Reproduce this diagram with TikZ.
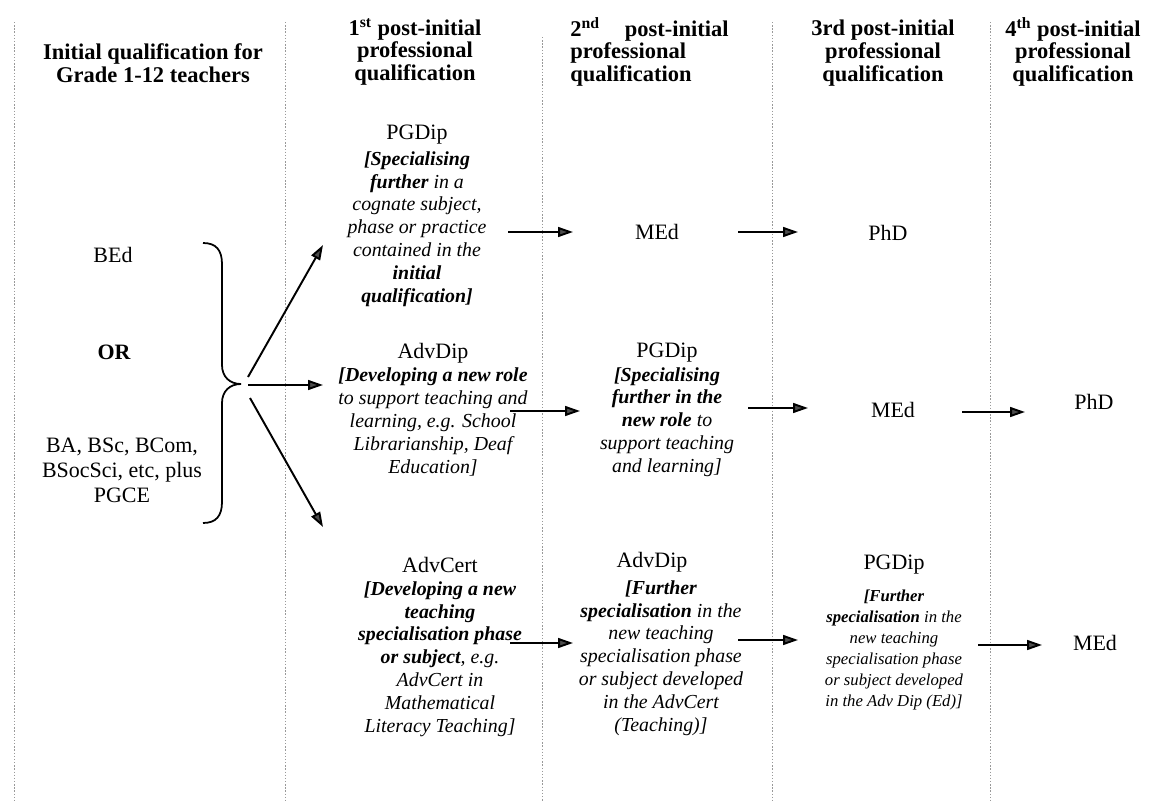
\documentclass[tikz,border=0pt]{standalone}
\usepackage{fontspec}
\setmainfont{Liberation Serif}
\usetikzlibrary{arrows.meta,calc}

\tikzset{
  grid/.style={draw=black!40, line width=0.4pt, dash pattern=on 0.8pt off 1pt},
  arr/.style={line width=1.1pt, -{Triangle[length=8.5pt,width=5.6pt,fill=black!70]}},
  head/.style={font=\fontsize{12.8}{13}\selectfont\bfseries, align=center, inner sep=0pt},
  qual/.style={font=\fontsize{12.5}{14.2}\selectfont, align=center, inner sep=0pt},
  desc/.style={font=\fontsize{11.3}{13}\selectfont\itshape, align=center, inner sep=0pt},
  small/.style={font=\fontsize{9.5}{11.9}\selectfont\itshape, align=center, inner sep=0pt},
}

\begin{document}
\begin{tikzpicture}[x=0.02cm, y=-0.02cm]
			%%%%% START %%%%%
			\useasboundingbox (0,0) rectangle (1170,801);
			
			\draw[grid] (14, 22) -- (14, 801);
			\draw[grid] (285, 22) -- (285, 801);
			\draw[grid] (542, 37) -- (542, 801);
			\draw[grid] (772, 22) -- (772, 801);
			\draw[grid] (990, 22) -- (990, 801);
			
			% headings
			\node[head] (hInit) at (153, 63) {Initial qualification for\\Grade 1-12 teachers};
			\node[head] (hFirst) at (415, 52) {1\textsuperscript{st} post-initial\\professional\\qualification};
			\node[head, align=left, anchor=west] (hSecond) at (570, 52) {2\textsuperscript{nd}\hspace{11pt} post-initial\\professional\\qualification};
			\node[head] (hThird) at (883, 53) {3rd post-initial\\professional\\qualification};
			\node[head] (hFourth) at (1073, 52) {4\textsuperscript{th} post-initial\\professional\\qualification};
			
			% initial qualification
			\node[qual] (bed) at (113, 255) {BEd};
			\node[qual, font=\fontsize{12.5}{14.2}\selectfont\bfseries] (orw) at (114, 352) {OR};
			\node[qual] (ba) at (122, 470) {BA, BSc, BCom,\\BSocSci, etc, plus\\PGCE};
			
			\draw[line width=1pt] (203, 243) .. controls (216, 243) and (222, 250) .. (222, 264) -- (222, 365)
				.. controls (222, 377) and (230, 384) .. (241, 384)
				.. controls (230, 384) and (222, 391) .. (222, 403) -- (222, 502)
				.. controls (222, 516) and (216, 523) .. (203, 523);
			
			\coordinate (upS) at (248, 377);
			\coordinate (upE) at (323, 245);
			\coordinate (midS) at (248, 385);
			\coordinate (midE) at (323, 385);
			\coordinate (lowS) at (250, 398);
			\coordinate (lowE) at (323, 527);
			\draw[arr] (upS) -- (upE);
			\draw[arr] (midS) -- (midE);
			\draw[arr] (lowS) -- (lowE);
			
			% first route
			\node[qual] (pgd1) at (417, 135) {PGDip};
			\node[desc] (pgd1d) at (417, 229) {\textbf{[Specialising}\\\textbf{further} in a\\cognate subject,\\phase or practice\\contained in the\\\textbf{initial}\\\textbf{qualification]}};
			\node[qual] (med1) at (657, 232) {MEd};
			\node[qual] (phd1) at (888, 233) {PhD};
			
			\coordinate (a1s) at (508, 232);
			\coordinate (a1e) at (573, 232);
			\coordinate (a2s) at (738, 232);
			\coordinate (a2e) at (798, 232);
			\draw[arr] (a1s) -- (a1e);
			\draw[arr] (a2s) -- (a2e);
			
			% second route
			\node[qual] (adv2) at (433, 353) {AdvDip};
			\node[desc] (adv2d) at (433, 422) {\textbf{[Developing a new role}\\to support teaching and\\learning, e.g. School\\Librarianship, Deaf\\Education]};
			\node[qual] (pgd2) at (667, 353) {PGDip};
			\node[desc] (pgd2d) at (667, 422) {\textbf{[Specialising}\\\textbf{further in the}\\\textbf{new role} to\\support teaching\\and learning]};
			\node[qual] (med2) at (893, 410) {MEd};
			\node[qual] (phd2) at (1094, 402) {PhD};
			
			\coordinate (b1s) at (510, 411);
			\coordinate (b1e) at (580, 411);
			\coordinate (b2s) at (748, 408);
			\coordinate (b2e) at (808, 408);
			\coordinate (b3s) at (962, 412);
			\coordinate (b3e) at (1025, 412);
			\draw[arr] (b1s) -- (b1e);
			\draw[arr] (b2s) -- (b2e);
			\draw[arr] (b3s) -- (b3e);
			
			% third route
			\node[qual] (advc3) at (440, 565) {AdvCert};
			\node[desc] (advc3d) at (440, 659) {\textbf{[Developing a new}\\\textbf{teaching}\\\textbf{specialisation phase}\\\textbf{or subject}, e.g.\\AdvCert in\\Mathematical\\Literacy Teaching]};
			\node[qual] (adv3) at (652, 562) {AdvDip};
			\node[desc] (adv3d) at (661, 658) {\textbf{[Further}\\\textbf{specialisation} in the\\new teaching\\specialisation phase\\or subject developed\\in the AdvCert\\(Teaching)]};
			\node[qual] (pgd3) at (894, 565) {PGDip};
			\node[small] (pgd3d) at (894, 650) {\textbf{[Further}\\\textbf{specialisation} in the\\new teaching\\specialisation phase\\or subject developed\\in the Adv Dip (Ed)]};
			\node[qual] (med3) at (1095, 643) {MEd};
			
			\coordinate (c1s) at (510, 643);
			\coordinate (c1e) at (573, 643);
			\coordinate (c2s) at (738, 640);
			\coordinate (c2e) at (798, 640);
			\coordinate (c3s) at (978, 645);
			\coordinate (c3e) at (1042, 645);
			\draw[arr] (c1s) -- (c1e);
			\draw[arr] (c2s) -- (c2e);
			\draw[arr] (c3s) -- (c3e);
			
			%%%%% END %%%%%
\end{tikzpicture}
\end{document}
